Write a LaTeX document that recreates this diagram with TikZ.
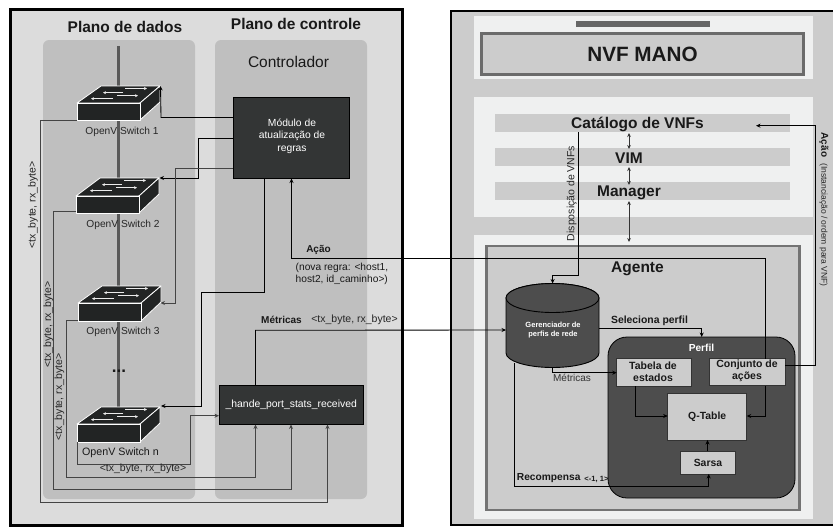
\documentclass[tikz,border=0pt]{standalone}
\usepackage{fontspec}
\setmainfont{Liberation Sans}
\usetikzlibrary{arrows.meta,shapes.geometric}
\definecolor{panelA}{HTML}{DCDCDC}
\definecolor{panelB}{HTML}{BFBFBF}
\definecolor{panelR}{HTML}{CCCCCC}
\definecolor{lightR}{HTML}{EFF0F0}
\definecolor{darkbox}{HTML}{333535}
\definecolor{midbox}{HTML}{4D4D4D}
\definecolor{swfill}{HTML}{222424}
\definecolor{wire}{HTML}{444444}
\tikzset{
  every node/.style={inner sep=0pt,outer sep=0pt,align=center,text=black!90},
  darkmod/.style={draw=black,line width=.8pt,fill=darkbox,text=white,font=\fontsize{10.4}{12.5}\selectfont},
  greybox/.style={draw=black!80,line width=.9pt,fill=panelR,font=\bfseries\fontsize{10.4}{12}\selectfont},
  wireline/.style={draw=wire,line width=.85pt},
  blackline/.style={draw=black,line width=.85pt},
  tip/.style={-{Stealth[length=4.5pt,width=4pt]}},
  twotip/.style={{Stealth[length=4pt,width=3.6pt]}-{Stealth[length=4pt,width=3.6pt]},draw=black!80,line width=.85pt},
  swlabel/.style={font=\fontsize{10.2}{11}\selectfont,text=black!85},
  metric/.style={font=\fontsize{10.5}{11}\selectfont,text=black!85},
  barbox/.style={fill=panelR},
  swline/.style={draw=white,line width=.8pt,line join=round,fill=swfill},
  swarrow/.style={draw=white!92!black,line width=1pt,-{Stealth[length=3pt,width=3pt]}}
}
\newcommand{\switchico}[5]{% name, left x, front top y, front bottom y, top y
  \path[swline] (#2,#3) -- (#2+24,#5) -- (#2+83,#5) -- (#2+63,#3) -- cycle;
  \path[swline] (#2+63,#3) -- (#2+83,#5) -- (#2+83,#5+16) -- (#2+63,#4) -- cycle;
  \node[swline,minimum width=63pt,minimum height=#4pt-#3pt,anchor=north west] (#1) at (#2,#3) {};
  \coordinate (#1tr) at (#2+83.5,#5);
  \draw[swarrow] (#2+48,#5+2.5) -- (#2+70,#5+2.5);
  \draw[swarrow] (#2+46,#5+6.7) -- (#2+26,#5+6.7);
  \draw[swarrow] (#2+40,#5+9.7) -- (#2+61,#5+9.7);
  \draw[swarrow] (#2+36,#5+12.7) -- (#2+14,#5+12.7);
}
\begin{document}
\begin{tikzpicture}[x=1pt,y=-1pt]
\useasboundingbox (0,0) rectangle (833,528);
% left outer panels
\node[draw=black,line width=2.4pt,fill=panelA,minimum width=392pt,minimum height=516pt,anchor=north west] (leftpanel) at (10.5,9.5) {};
\node[fill=panelB,rounded corners=6pt,minimum width=152pt,minimum height=459pt,anchor=north west] (dataplane) at (43,40) {};
\node[fill=panelB,rounded corners=6pt,minimum width=152pt,minimum height=459pt,anchor=north west] (ctrlplane) at (215,40) {};
\node[font=\bfseries\fontsize{15.5}{17}\selectfont] (tdados) at (125,27) {Plano de dados};
\node[font=\bfseries\fontsize{15.5}{17}\selectfont] (tctrl) at (296,24) {Plano de controle};
\node[font=\fontsize{15.5}{17}\selectfont] (tcontrolador) at (288.5,61.5) {Controlador};
% vertical backbone
\coordinate (backtop) at (118.5,46);
\coordinate (backbot) at (118.5,408);
\draw[draw=black!65,line width=2.2pt] (backtop) -- (backbot);
% switches
\switchico{swa}{77}{103}{120}{86}
\switchico{swb}{76}{196}{213}{178}
\switchico{swc}{78}{303}{321}{286}
\switchico{swn}{77}{424}{442}{407}
\node[swlabel] (lswa) at (122,132) {OpenV Switch 1};
\node[swlabel] (lswb) at (123,224.5) {OpenV Switch 2};
\node[swlabel] (lswc) at (123,331.5) {OpenV Switch 3};
\node[font=\fontsize{10.7}{11}\selectfont] (lswn) at (120.5,452.5) {OpenV Switch n};
\node[font=\bfseries\fontsize{17}{17}\selectfont] (dots) at (119,371.5) {...};
% controller boxes
\node[darkmod,minimum width=116.5pt,minimum height=81pt,anchor=north west] (mod) at (233,97.5) {};
\node[text=white,font=\fontsize{10.3}{12.6}\selectfont] (modtxt) at (292,136) {Módulo de\\atualização de\\regras};
\node[darkmod,minimum width=144.5pt,minimum height=39pt,anchor=north west] (port) at (219,385.5) {\_hande\_port\_stats\_received};
% right panel
\fill[panelR] (450,10) rectangle (833,526);
\draw[black,line width=2.4pt] (833,11) -- (451.2,11) -- (451.2,525) -- (833,525);
\node[fill=lightR,minimum width=339pt,minimum height=63pt,anchor=north west] (lighta) at (474,16) {};
\node[fill=black!60,minimum width=134pt,minimum height=6pt,anchor=north west] (topbar) at (576,21) {};
\node[draw=black!58,line width=2.6pt,fill=panelR,minimum width=322pt,minimum height=41pt,anchor=north west,font=\bfseries\fontsize{20.7}{22}\selectfont] (mano) at (481.5,33.5) {NVF MANO};
\node[fill=lightR,minimum width=339pt,minimum height=120pt,anchor=north west] (lightb) at (474,97) {};
\node[barbox,minimum width=295pt,minimum height=18pt,anchor=north west] (bara) at (495,114) {};
\node[barbox,minimum width=295pt,minimum height=18pt,anchor=north west] (barb) at (495,148) {};
\node[barbox,minimum width=295pt,minimum height=18pt,anchor=north west] (barc) at (495,182) {};
\node[font=\bfseries\fontsize{15.5}{17}\selectfont] (cat) at (637.5,124.5) {Catálogo de VNFs};
\node[font=\bfseries\fontsize{15.5}{17}\selectfont] (vim) at (629,158.5) {VIM};
\node[font=\bfseries\fontsize{15.5}{17}\selectfont] (mgr) at (629,193) {Manager};
\node[fill=lightR,minimum width=339pt,minimum height=284pt,anchor=north west] (lightc) at (474,235) {};
\node[draw=black!55,line width=2.6pt,fill=panelR,minimum width=313pt,minimum height=264pt,anchor=north west] (agent) at (486.5,246) {};
\node[font=\bfseries\fontsize{15.5}{17}\selectfont] (tagente) at (637.5,269) {Agente};
% cylinder
\draw[draw=black,line width=.9pt,fill=midbox] (506,298) -- (506,353) arc[start angle=180,end angle=0,x radius=46.5,y radius=14.5] -- (599,298) arc[start angle=0,end angle=-180,x radius=46.5,y radius=14.5] -- cycle;
\draw[draw=black,line width=.9pt,fill=midbox] (552.5,298) ellipse[x radius=46.5,y radius=14.5];
\coordinate (cyltop) at (552.6,283.5);
\coordinate (cylbot) at (552.6,367.5);
\coordinate (cylleft) at (506,330);
\coordinate (cylright) at (599,328);
\coordinate (cylrec) at (514.5,363);
\node[text=white,font=\bfseries\fontsize{7.5}{9.6}\selectfont] (gerenc) at (553,330) {Gerenciador de\\perfis de rede};
% perfil
\node[draw=black,line width=.8pt,fill=midbox,rounded corners=19pt,minimum width=187pt,minimum height=161pt,anchor=north west] (perfil) at (608,337) {};
\node[text=white,font=\bfseries\fontsize{10.2}{11}\selectfont] (tperfil) at (701.5,347.5) {Perfil};
\node[greybox,minimum width=75pt,minimum height=27.5pt,anchor=north west] (tabela) at (616.7,358.5) {};
\node[font=\bfseries\fontsize{10.5}{12.2}\selectfont] (ttabela) at (653,372) {Tabela de\\estados};
\node[greybox,minimum width=76pt,minimum height=27pt,anchor=north west] (conj) at (709,358.5) {};
\node[font=\bfseries\fontsize{10.5}{12.2}\selectfont] (tconj) at (747,371) {Conjunto de\\ações};
\node[greybox,minimum width=79pt,minimum height=47pt,anchor=north west] (qtab) at (667.7,393) {Q-Table};
\node[greybox,minimum width=54.5pt,minimum height=23pt,anchor=north west] (sarsa) at (680.7,451) {Sarsa};
% connectors: switches to port stats
\draw[wireline,tip] (swa.south west) -- (40,120) -- (40,502.5) -- (327.5,502.5) -- (port.south -| 327.5,0);
\draw[wireline,tip] (swb.west |- 0,211) -- (53,211) -- (53,489.5) -- (291,489.5) -- (port.south -| 291,0);
\draw[wireline,tip] (swc.west |- 0,320) -- (66,320) -- (66,477) -- (255.5,477) -- (port.south -| 255.5,0);
\draw[wireline,tip] (swn.south west) -- (77,464) -- (190,464) -- (190,415.7) -- (port.west |- 0,415.7);
% module to switches
\draw[blackline,tip] (mod.west |- 0,117.5) -- (161,117.5) -- (swatr);
\draw[blackline,tip] (mod.west |- 0,138) -- (198,138) -- (198,178) -- (swbtr);
\draw[wireline,tip] (mod.west |- 0,168) -- (175,168) -- (175,303) -- (160.5,303);
\draw[blackline,tip] (mod.south -| 264,0) -- (264,292) -- (201,292) -- (201,406) -- (161,406);
% action to module
\draw[blackline,tip] (conj.north -| 765,0) -- (765,258.7) -- (291.5,258.7) -- (mod.south -| 291.5,0);
% metrics
\draw[blackline,tip] (port.north -| 255.5,0) -- (255.5,330.3) -- (cylleft);
% agent inner connectors
\draw[twotip] (629,133) -- (629,149);
\draw[twotip] (629,167) -- (629,185);
\draw[twotip] (629,201) -- (629,242);
\draw[blackline,tip] (bara.south -| 578.3,0) -- (578.3,275) -- (552.6,275) -- (cyltop);
\draw[blackline,tip] (conj.east |- 0,365) -- (815.5,365) -- (815.5,125.7) -- (756,125.7);
\draw[blackline,tip] (cylright) -- (701.7,328) -- (perfil.north -| 701.7,0);
\draw[blackline,tip] (cylbot) -- (552.6,372.7) -- (tabela.west |- 0,372.7);
\draw[blackline,tip] (tabela.south -| 635,0) -- (635,416) -- (qtab.west |- 0,416);
\draw[blackline,tip] (conj.south -| 765,0) -- (765,416) -- (qtab.east |- 0,416);
\draw[blackline,tip] (sarsa.north -| 707.5,0) -- (qtab.south -| 707.5,0);
\draw[blackline,tip] (cylrec) -- (514.5,486.7) -- (708.7,486.7) -- (sarsa.south -| 708.7,0);
% labels
\node[metric,rotate=90] (la) at (33,205) {<tx\_byte, rx\_byte>};
\node[metric,rotate=90] (lb) at (48.5,324.5) {<tx\_byte, rx\_byte>};
\node[metric,rotate=90] (lc) at (59.5,397) {<tx\_byte, rx\_byte>};
\node[metric] (ld) at (143,468.7) {<tx\_byte, rx\_byte>};
\node[font=\bfseries\fontsize{10}{11}\selectfont] (lmet) at (281.5,320) {Métricas};
\node[metric] (lme) at (354.5,320) {<tx\_byte, rx\_byte>};
\node[font=\bfseries\fontsize{10}{11}\selectfont] (lacao) at (318.5,250) {Ação};
\node[font=\fontsize{10.2}{11.6}\selectfont,align=left] (lnova) at (342,273.7) {(nova regra: <host1,\\host2, id\_caminho>)};
\node[rotate=90,font=\fontsize{10.5}{11}\selectfont,text=black!85] (ldisp) at (571.7,193.5) {Disposição de VNFs};
\node[rotate=-90,font=\bfseries\fontsize{10}{11}\selectfont] (lacaob) at (824,145) {Ação};
\node[rotate=-90,font=\fontsize{8.5}{10}\selectfont,text=black!85] (linst) at (823.5,225) {(Instanciação / ordem para VNF)};
\node[font=\bfseries\fontsize{10.4}{11}\selectfont] (lsel) at (649.5,321) {Seleciona perfil};
\node[font=\fontsize{10}{11}\selectfont,text=black!80] (lmet2) at (572,377.5) {Métricas};
\node[font=\bfseries\fontsize{10.2}{11}\selectfont] (lrec) at (548.7,478.5) {Recompensa};
\node[font=\bfseries\fontsize{7.6}{8}\selectfont] (lrecb) at (596.5,479.5) {<-1, 1>};
\end{tikzpicture}
\end{document}
